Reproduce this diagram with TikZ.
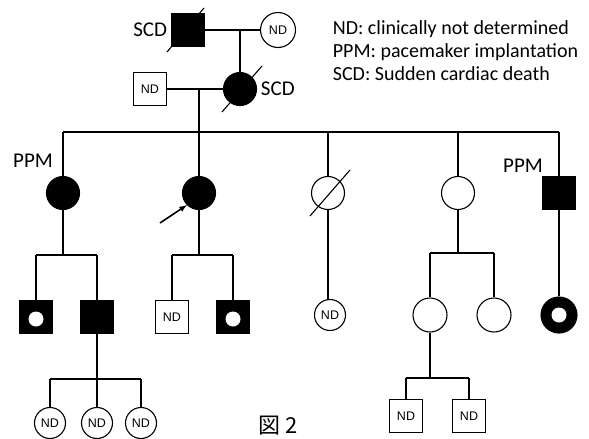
\documentclass[tikz,border=0pt]{standalone}
\usepackage{fontspec}
\setmainfont{Carlito}
\newfontfamily\ndfont{Liberation Sans}
\newfontfamily\jpfont{Noto Sans CJK JP}
\usetikzlibrary{calc}

\begin{document}
\begin{tikzpicture}[x=1pt, y=-1pt, line width=1.1pt,
        male/.style={rectangle, draw=black, fill=white, minimum size=33pt, inner sep=0pt, font=\ndfont\fontsize{12.5}{12.5}\selectfont},
        female/.style={circle, draw=black, fill=white, minimum size=33pt, inner sep=0pt, font=\ndfont\fontsize{12.5}{12.5}\selectfont},
        affected/.style={fill=black},
        carrier/.style={circle, fill=white, minimum size=15pt, inner sep=0pt},
        lbl/.style={font=\fontsize{21}{21}\selectfont},
        legend/.style={anchor=west, font=\fontsize{20}{20}\selectfont}
    ]
        \useasboundingbox (0,0) rectangle (589,439);

        % Generation I
        \node[male, affected] (gf) at (188,30) {};
        \node[female, minimum size=35pt] (gm) at (278,30) {ND};
        \draw ($(gf.center)+(-21,22)$) -- ($(gf.center)+(16,-22)$);
        \node[lbl, anchor=east] (gflbl) at (gf.west) {SCD};
        \draw (gf) -- (gm);

        % Generation II
        \node[male] (hus) at (150,89) {ND};
        \node[female, affected] (dau) at (240,89) {};
        \draw ($(dau.center)+(-18,23)$) -- ($(dau.center)+(22,-23)$);
        \node[lbl, anchor=west] (daulbl) at (dau.east) {SCD};
        \draw (dau |- gf) -- (dau);
        \draw (hus) -- (dau);
        \coordinate (mar2) at (199,89);
        \coordinate (sib2) at (199,132);

        % Generation III
        \node[female, affected] (c1) at (63,193) {};
        \node[female, affected] (c2) at (199,193) {};
        \node[female] (c3) at (328,193) {};
        \node[female] (c4) at (458,193) {};
        \node[male, affected] (c5) at (559,193) {};
        \draw ($(c3.center)+(-18,23)$) -- ($(c3.center)+(22,-23)$);
        \node[lbl] (c1lbl) at (33,161) {PPM};
        \node[lbl] (c5lbl) at (523,166) {PPM};
        \coordinate (proband) at (160,223);
        \draw[-latex, line width=1.6pt] (proband) -- (c2.south west);

        \draw (mar2) -- (sib2);
        \draw (c1.north |- sib2) -- (c5.north |- sib2);
        \foreach \c in {c1,c2,c3,c4,c5}
            \draw (\c.north) -- (\c.north |- sib2);

        % Generation IV
        \node[male, affected] (g1) at (36,317) {};
        \node[carrier] (g1dot) at (36,319) {};
        \node[male, affected] (g2) at (97,317) {};
        \node[male] (g3) at (172,317) {ND};
        \node[male, affected] (g4) at (233,317) {};
        \node[carrier] (g4dot) at (233,319) {};
        \node[female, minimum size=31pt] (g5) at (330,315) {ND};
        \node[female, minimum size=34pt] (g6) at (430,315) {};
        \node[female, minimum size=34pt] (g7) at (494,315) {};
        \node[female, affected, minimum size=36pt] (g8) at (559,315) {};
        \node[carrier] (g8dot) at (559,315) {};

        \coordinate (sib31) at (63,255);
        \draw (c1) -- (sib31);
        \draw (g1.north |- sib31) -- (g2.north |- sib31);
        \draw (g1.north |- sib31) -- (g1.north);
        \draw (g2.north |- sib31) -- (g2.north);

        \coordinate (sib32) at (199,255);
        \draw (c2) -- (sib32);
        \draw (g3.north |- sib32) -- (g4.north |- sib32);
        \draw (g3.north |- sib32) -- (g3.north);
        \draw (g4.north |- sib32) -- (g4.north);

        \draw (c3.south) -- (c3.south |- g5.north);

        \coordinate (sib34) at (458,253);
        \draw (c4) -- (sib34);
        \draw (g6.north |- sib34) -- (g7.north |- sib34);
        \draw (g6.north |- sib34) -- (g6.north);
        \draw (g7.north |- sib34) -- (g7.north);

        \draw (c5) -- (g8);

        % Generation V
        \node[female, minimum size=31pt] (h1) at (50,423) {ND};
        \node[female, minimum size=31pt] (h2) at (97,423) {ND};
        \node[female, minimum size=31pt] (h3) at (141,423) {ND};
        \node[male] (h4) at (406,416) {ND};
        \node[male] (h5) at (469,416) {ND};

        \coordinate (sib42) at (97,379);
        \draw (g2) -- (sib42);
        \draw (h1.north |- sib42) -- (h3.north |- sib42);
        \foreach \h in {h1,h2,h3}
            \draw (\h.north) -- (\h.north |- sib42);

        \coordinate (sib46) at (430,378);
        \draw (g6) -- (sib46);
        \draw (h4.north |- sib46) -- (h5.north |- sib46);
        \foreach \h in {h4,h5}
            \draw (\h.north) -- (\h.north |- sib46);

        % Legend
        \node[legend] (legnd) at (329,29) {ND: clinically not determined};
        \node[legend] (legppm) at (329,52) {PPM: pacemaker implantation};
        \node[legend] (legscd) at (329,74) {SCD: Sudden cardiac death};

        % Caption
        \node[font=\jpfont\fontsize{22}{22}\selectfont] (fig) at (278,426) {図 2};
    \end{tikzpicture}
\end{document}
